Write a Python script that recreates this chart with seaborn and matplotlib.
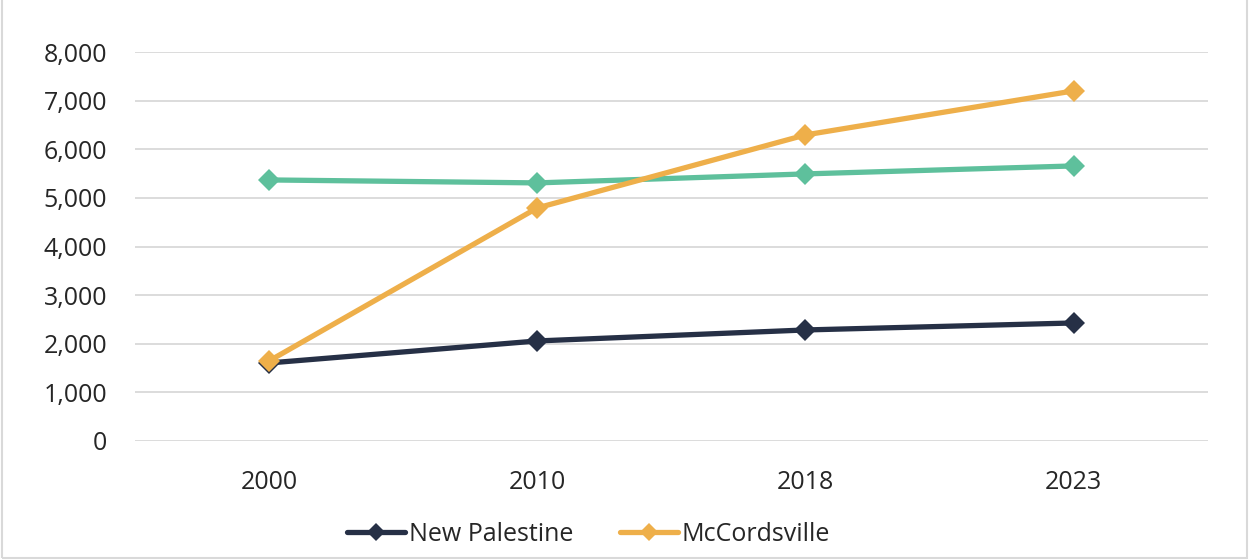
import pandas as pd
import matplotlib.pyplot as plt
import seaborn as sns
from matplotlib.patches import Rectangle
from matplotlib.ticker import FuncFormatter

# Values
years = ["2000", "2010", "2018", "2023"]
new_palestine = [1605, 2058, 2284, 2428]
mccordsville = [1646, 4794, 6296, 7202]
third_series = [5370, 5309, 5494, 5658]

colors = {"New Palestine": "#263046", "McCordsville": "#EEAF4A", "Other": "#5EC09C"}

sns.set_style("white")
plt.rcParams["font.family"] = ["Open Sans", "DejaVu Sans"]

fig = plt.figure(figsize=(12.49, 5.6), dpi=100)
ax = fig.add_axes([0.108, 0.2125, 0.859, 0.6945])

df = pd.DataFrame({"Year": years, "New Palestine": new_palestine,
                   "McCordsville": mccordsville, "Other": third_series})

line_kw = dict(marker="D", markersize=11, markeredgewidth=0, linewidth=3.8)

# green line first, no legend entry
sns.lineplot(data=df, x="Year", y="Other", ax=ax, color=colors["Other"],
             legend=False, zorder=2, **line_kw)
sns.lineplot(data=df, x="Year", y="New Palestine", ax=ax, color=colors["New Palestine"],
             label="New Palestine", zorder=3, **line_kw)
sns.lineplot(data=df, x="Year", y="McCordsville", ax=ax, color=colors["McCordsville"],
             label="McCordsville", zorder=4, **line_kw)

ax.set_xlim(-0.5, 3.5)
ax.set_ylim(0, 8000)
ax.set_yticks(range(0, 8001, 1000))
ax.yaxis.set_major_formatter(FuncFormatter(lambda v, p: f"{int(v):,}"))
ax.grid(axis="y", color="#D9D9D9", linewidth=1.3)
ax.set_axisbelow(True)
for s in ax.spines.values():
    s.set_visible(False)
ax.set_xlabel("")
ax.set_ylabel("")
ax.tick_params(axis="both", length=0, labelsize=18, colors="#262626")
ax.tick_params(axis="x", pad=21)
ax.tick_params(axis="y", pad=20)

leg = ax.legend(loc="center", bbox_to_anchor=(0.423, -0.24), ncol=2, frameon=False,
                fontsize=18, handlelength=2.3, handletextpad=0.15, columnspacing=1.9,
                labelcolor="#262626")
for h in leg.legend_handles:
    h.set_markersize(9)

# light border around the chart area
fig.patches.append(Rectangle((0.0015, 0.004), 0.997, 1.2, transform=fig.transFigure,
                             fill=False, edgecolor="#D9D9D9", linewidth=1.5))

fig.savefig("out.png", dpi=100, facecolor="white")
